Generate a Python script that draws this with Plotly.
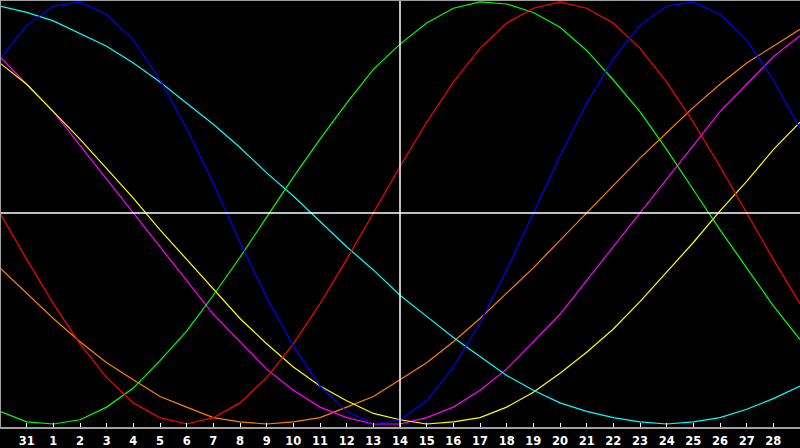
import plotly.graph_objects as go

# Day labels along the x axis (first and last day are unlabeled)
days = ["30", "31"] + [str(d) for d in range(1, 30)]
today = "14"

# Cycle values in percent (one value per day)
physical = [73, 89, 98, 100, 94, 82, 63, 40, 14, -14, -40, -63, -82, -94, -100, -98,
            -89, -73, -52, -27, 0, 27, 52, 73, 89, 98, 100, 94, 82, 63, 40]
emotional = [0, -22, -43, -62, -78, -90, -97, -100, -97, -90, -78, -62, -43, -22, 0, 22,
             43, 62, 78, 90, 97, 100, 97, 90, 78, 62, 43, 22, 0, -22, -43]
intellectual = [-94, -99, -100, -98, -92, -83, -70, -56, -39, -21, -2, 17, 35, 52, 68, 80,
                90, 97, 100, 99, 95, 88, 77, 63, 48, 30, 11, -8, -26, -44, -60]
spiritual = [98, 95, 91, 85, 79, 71, 62, 52, 42, 31, 19, 8, -4, -16, -27, -39,
             -49, -59, -68, -77, -84, -90, -94, -97, -99, -100, -99, -97, -93, -88, -82]
aesthetic = [71, 61, 48, 35, 21, 7, -8, -22, -36, -50, -62, -73, -82, -89, -95, -98,
             -100, -99, -97, -92, -85, -76, -66, -55, -42, -28, -14, 1, 15, 30, 43]
intuitive = [74, 61, 48, 32, 16, 0, -16, -32, -48, -61, -74, -84, -92, -97, -100, -100,
             -97, -92, -84, -74, -61, -48, -32, -16, 0, 16, 32, 48, 61, 74, 84]
awareness = [-26, -38, -50, -61, -71, -79, -87, -92, -97, -99, -100, -99, -97, -92, -87, -79,
             -71, -61, -50, -38, -26, -13, 0, 13, 26, 38, 50, 61, 71, 79, 87]

series = [
    ("Awareness", awareness, "#ff8000"),
    ("Intuitive", intuitive, "#ff00ff"),
    ("Aesthetic", aesthetic, "#ffff00"),
    ("Spiritual", spiritual, "#00ffff"),
    ("Intellectual", intellectual, "#00ff00"),
    ("Emotional", emotional, "#ff0000"),
    ("Physical", physical, "#0000ff"),
]

x = list(range(len(days)))

fig = go.Figure()
for name, vals, col in series:
    fig.add_trace(go.Scatter(x=x, y=vals, mode="lines", name=name,
                             line=dict(color=col, width=1.2), hoverinfo="skip"))

ti = days.index(today)

frame = "#a0a0a0"
fig.update_layout(
    width=800, height=448,
    margin=dict(l=0, r=0, t=0, b=20),
    paper_bgcolor="black", plot_bgcolor="black",
    showlegend=False,
    xaxis=dict(range=[0, len(days) - 1], tickvals=x[1:-1], ticktext=days[1:-1],
               ticks="inside", ticklen=5, tickcolor="white", tickwidth=1,
               ticklabelstandoff=4,
               showgrid=False, zeroline=False, showline=False, fixedrange=True,
               tickfont=dict(family="DejaVu Sans", size=11.5, color="white", weight="bold")),
    yaxis=dict(range=[-101.9, 100.9], showticklabels=False, ticks="",
               showgrid=False, zeroline=False, showline=False, fixedrange=True),
    shapes=[
        dict(type="line", xref="paper", yref="y", x0=0, x1=1, y0=0, y1=0,
             line=dict(color="white", width=1.5), layer="above"),
        dict(type="line", xref="x", yref="paper", x0=ti, x1=ti, y0=0, y1=1,
             line=dict(color="white", width=1.5), layer="above"),
        dict(type="line", xref="paper", yref="paper", x0=0, x1=0, y0=0, y1=1,
             line=dict(color=frame, width=2), layer="above"),
        dict(type="line", xref="paper", yref="paper", x0=0, x1=1, y0=1, y1=1,
             line=dict(color=frame, width=2), layer="above"),
        dict(type="line", xref="paper", yref="paper", x0=0, x1=1, y0=0, y1=0,
             line=dict(color=frame, width=2), layer="above"),
    ],
)

fig.write_html("out.html", config={"displayModeBar": False, "staticPlot": True},
               post_script="document.body.style.margin='0';document.body.style.overflow='hidden';")
